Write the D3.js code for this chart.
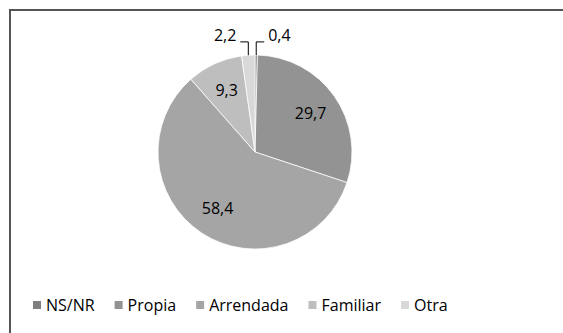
<!DOCTYPE html>
<html>
<head>
<meta charset="utf-8">
<script src="https://cdn.jsdelivr.net/npm/d3@7"></script>
<style>
  html, body { margin: 0; padding: 0; background: #fff; }
  svg { display: block; }
  text { font-family: "Open Sans", "Noto Sans", sans-serif; }
</style>
</head>
<body>
<svg id="chart" width="563" height="333"></svg>
<script>
// Tipo de tenencia de la vivienda (%)
const categories = ["NS/NR", "Propia", "Arrendada", "Familiar", "Otra"];
const values = [0.4, 29.7, 58.4, 9.3, 2.2];
const valueLabels = ["0,4", "29,7", "58,4", "9,3", "2,2"];
const colors = ["#7f7f7f", "#939393", "#a5a5a5", "#bebebe", "#d8d8d8"];
// slices too thin for an inside label get a callout above the pie
const outsideLabel = [true, false, false, false, true];

const W = 563, H = 333;
const svg = d3.select("#chart");

// chart frame
svg.append("rect")
  .attr("x", 10).attr("y", 10)
  .attr("width", W + 20).attr("height", H + 20)
  .attr("fill", "#fff")
  .attr("stroke", "#555").attr("stroke-width", 2);

const cx = 255, cy = 152, r = 97;
const g = svg.append("g").attr("transform", `translate(${cx},${cy})`);

const pie = d3.pie().sort(null).value(d => d.v);
const data = pie(categories.map((c, i) => ({ c, v: values[i], i })));

const arc = d3.arc().innerRadius(0).outerRadius(r);
const labelArc = d3.arc().innerRadius(r * 0.7).outerRadius(r * 0.7);

g.selectAll("path.slice")
  .data(data)
  .join("path")
  .attr("class", "slice")
  .attr("d", arc)
  .attr("fill", d => colors[d.data.i])
  .attr("stroke", "#fff")
  .attr("stroke-width", 0.75);

// inside labels
g.selectAll("text.inside")
  .data(data.filter(d => !outsideLabel[d.data.i]))
  .join("text")
  .attr("class", "inside")
  .attr("transform", d => `translate(${labelArc.centroid(d)})`)
  .attr("text-anchor", "middle")
  .attr("dy", "0.35em")
  .attr("font-size", 16)
  .attr("fill", "#000")
  .text(d => valueLabels[d.data.i]);

// callout labels with leader lines
const lineY = -(r * 1.135);
const textY = -(r * 1.2);
data.filter(d => outsideLabel[d.data.i]).forEach(d => {
  const mid = (d.startAngle + d.endAngle) / 2;
  const px = r * Math.sin(mid), py = -r * Math.cos(mid);
  const side = px < 0 ? -1 : 1;
  const hx = px + side * 8;
  g.append("polyline")
    .attr("points", `${px},${py} ${px},${lineY} ${hx},${lineY}`)
    .attr("fill", "none")
    .attr("stroke", "#000")
    .attr("stroke-width", 1);
  g.append("text")
    .attr("x", hx + side * 4)
    .attr("y", textY)
    .attr("dy", "0.35em")
    .attr("text-anchor", side < 0 ? "end" : "start")
    .attr("font-size", 16)
    .attr("fill", "#000")
    .text(valueLabels[d.data.i]);
});

// legend
const legend = svg.append("g").attr("transform", "translate(33,305)");
let x = 0;
categories.forEach((c, i) => {
  const item = legend.append("g").attr("transform", `translate(${x},0)`);
  item.append("rect")
    .attr("x", 0).attr("y", -4)
    .attr("width", 8).attr("height", 8)
    .attr("fill", colors[i]);
  const t = item.append("text")
    .attr("x", 13).attr("y", 0)
    .attr("dy", "0.35em")
    .attr("font-size", 16)
    .attr("fill", "#000")
    .text(c);
  x += 13 + t.node().getComputedTextLength() + 20;
});
</script>
</body>
</html>
